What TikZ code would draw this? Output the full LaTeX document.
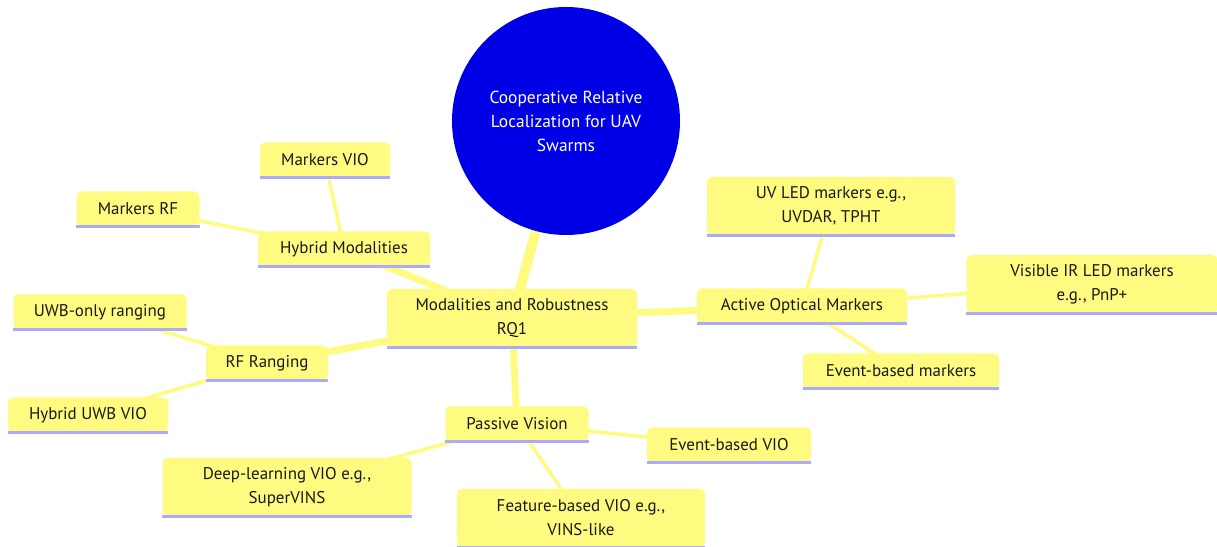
\documentclass[tikz,border=0pt]{standalone}
\usepackage{fontspec}
\setmainfont{PT Sans}
\usepackage{tikz}
\usetikzlibrary{shapes}
\definecolor{mmyellow}{HTML}{FFFA80}
\definecolor{mmline}{HTML}{AAAAFF}
\definecolor{mmroot}{HTML}{0000E6}
\pgfdeclarelayer{background}
\pgfsetlayers{background,main}
\tikzset{
  mmbox/.style={fill=mmyellow,rounded corners=5bp,inner sep=0pt,align=center,
    minimum height=35bp,font=\fontsize{17}{24}\selectfont,text=black!90},
  mmroot/.style={circle,fill=mmroot,inner sep=0pt,minimum size=228bp,align=center,
    font=\fontsize{17.5}{24}\selectfont,text=white},
  mmedge/.style={draw=mmyellow,line cap=round},
}

\begin{document}
\begin{tikzpicture}[>=latex,line join=bevel,]
\useasboundingbox (0bp,0bp) rectangle (1217bp,547bp);
%%
\node (node_root) at (566bp,426bp) [mmroot] {Cooperative Relative\\Localization for UAV\\Swarms};
  \node (node_mod) at (512bp,229bp) [mmbox,minimum width=250bp,minimum height=58bp] {Modalities and Robustness\\RQ1};
  \node (node_hyb) at (344bp,298bp) [mmbox,minimum width=172bp] {Hybrid Modalities};
  \node (node_mvio) at (325bp,387bp) [mmbox,minimum width=130bp] {Markers VIO};
  \node (node_mrf) at (138bp,338bp) [mmbox,minimum width=123bp] {Markers RF};
  \node (node_rfr) at (267bp,184bp) [mmbox,minimum width=122bp] {RF Ranging};
  \node (node_uwb) at (100bp,235bp) [mmbox,minimum width=173bp] {UWB-only ranging};
  \node (node_huwb) at (88bp,132bp) [mmbox,minimum width=160bp] {Hybrid UWB VIO};
  \node (node_pas) at (517bp,123bp) [mmbox,minimum width=143bp] {Passive Vision};
  \node (node_evio) at (729bp,102bp) [mmbox,minimum width=164bp] {Event-based VIO};
  \node (node_deep) at (287bp,60bp) [mmbox,minimum width=249bp,minimum height=58bp] {Deep-learning VIO e.g.,\\SuperVINS};
  \node (node_feat) at (581bp,29bp) [mmbox,minimum width=248bp,minimum height=58bp] {Feature-based VIO e.g.,\\VINS-like};
  \node (node_act) at (802bp,241bp) [mmbox,minimum width=210bp] {Active Optical Markers};
  \node (node_uv) at (831bp,341bp) [mmbox,minimum width=248bp,minimum height=58bp] {UV LED markers e.g.,\\UVDAR, TPHT};
  \node (node_vis) at (1092bp,263bp) [mmbox,minimum width=251bp,minimum height=58bp] {Visible IR LED markers\\e.g., PnP+};
  \node (node_evm) at (901bp,176bp) [mmbox,minimum width=196bp] {Event-based markers};
%
\foreach \n in {mod,hyb,mvio,mrf,rfr,uwb,huwb,pas,evio,deep,feat,act,uv,vis,evm}
  \draw [mmline,line width=3bp] (node_\n.south west) -- (node_\n.south east);
%
\begin{pgfonlayer}{background}
  \draw [mmedge,line width=10bp] (node_root.center) -- (node_mod.center);
  \draw [mmedge,line width=7bp] (node_mod.center) -- (node_hyb.center);
  \draw [mmedge,line width=7bp] (node_mod.center) -- (node_rfr.center);
  \draw [mmedge,line width=7bp] (node_mod.center) -- (node_pas.center);
  \draw [mmedge,line width=7bp] (node_mod.center) -- (node_act.center);
  \draw [mmedge,line width=3.5bp] (node_hyb.center) -- (node_mvio.center);
  \draw [mmedge,line width=3.5bp] (node_hyb.center) -- (node_mrf.center);
  \draw [mmedge,line width=3.5bp] (node_rfr.center) -- (node_uwb.center);
  \draw [mmedge,line width=3.5bp] (node_rfr.center) -- (node_huwb.center);
  \draw [mmedge,line width=3.5bp] (node_pas.center) -- (node_evio.center);
  \draw [mmedge,line width=3.5bp] (node_pas.center) -- (node_deep.center);
  \draw [mmedge,line width=3.5bp] (node_pas.center) -- (node_feat.center);
  \draw [mmedge,line width=3.5bp] (node_act.center) -- (node_uv.center);
  \draw [mmedge,line width=3.5bp] (node_act.center) -- (node_vis.center);
  \draw [mmedge,line width=3.5bp] (node_act.center) -- (node_evm.center);
\end{pgfonlayer}
%
\end{tikzpicture}
\end{document}
